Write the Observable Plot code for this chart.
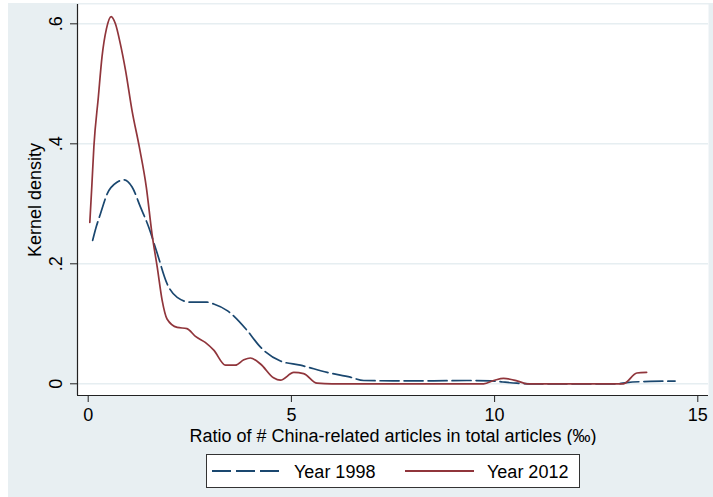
<!DOCTYPE html>
<html>
<head>
<meta charset="utf-8">
<script src="https://cdn.jsdelivr.net/npm/d3@7"></script>
<script src="https://cdn.jsdelivr.net/npm/@observablehq/plot@0.6"></script>
<style>
  html, body { margin: 0; padding: 0; background: #ffffff; }
  #wrap {
    position: relative; width: 713px; height: 497px; overflow: hidden;
    background: #e8eff2;
    box-shadow: inset 8px 3px 0 #ffffff;
    font-family: "Liberation Sans", Arial, sans-serif;
  }
  #chart { position: absolute; left: 0; top: 0; }
  #legend {
    position: absolute; left: 206px; top: 454px; width: 372px; height: 32px;
    background: #ffffff; border: 1px solid #333333;
    font-size: 18px; color: #000;
  }
  #legend .item { position: absolute; top: 0; height: 32px; display: flex; align-items: center; }
  #legend svg { display: block; }
</style>
</head>
<body>
<div id="wrap">
  <div id="chart"></div>
  <div id="legend"></div>
</div>
<script>
// ---- Data ----
const x1998 = [0.11, 0.20, 0.30, 0.47, 0.71, 0.89, 1.08, 1.29, 1.49, 1.70, 1.94, 2.19, 2.52, 2.93, 3.09, 3.42, 3.91, 4.24, 4.73, 5.22, 5.88, 6.45, 6.78, 7.50, 8.50, 9.32, 9.90, 10.20, 10.55, 11.00, 12.00, 13.00, 13.25, 13.83, 14.44];
const d1998 = [0.239, 0.262, 0.283, 0.317, 0.336, 0.340, 0.328, 0.294, 0.261, 0.217, 0.167, 0.144, 0.136, 0.136, 0.133, 0.122, 0.089, 0.061, 0.038, 0.031, 0.019, 0.011, 0.0055, 0.005, 0.005, 0.0055, 0.005, 0.003, 0.001, 0.0, 0.0, 0.0, 0.002, 0.004, 0.0045];

const x2012 = [0.04, 0.09, 0.14, 0.25, 0.34, 0.45, 0.565, 0.67, 0.79, 0.92, 1.08, 1.26, 1.43, 1.57, 1.70, 1.82, 1.94, 2.19, 2.43, 2.64, 2.88, 3.09, 3.38, 3.62, 3.83, 3.99, 4.24, 4.56, 4.73, 5.06, 5.30, 5.63, 6.00, 7.00, 8.00, 9.00, 9.73, 10.00, 10.22, 10.55, 10.80, 11.50, 12.50, 13.17, 13.50, 13.74];
const d2012 = [0.269, 0.330, 0.395, 0.478, 0.545, 0.592, 0.612, 0.600, 0.567, 0.522, 0.455, 0.394, 0.328, 0.250, 0.194, 0.139, 0.108, 0.094, 0.092, 0.079, 0.069, 0.056, 0.031, 0.031, 0.040, 0.043, 0.033, 0.010, 0.006, 0.019, 0.017, 0.001, 0.0, 0.0, 0.0, 0.0, 0.0, 0.006, 0.009, 0.005, 0.0, 0.0, 0.0, 0.0, 0.018, 0.019];

const seriesNames = ["Year 1998", "Year 2012"];
const seriesColors = ["#1a476f", "#90353b"];

const xTicks = [0, 5, 10, 15];
const xTickLabels = ["0", "5", "10", "15"];
const yTicks = [0, 0.2, 0.4, 0.6];
const yTickLabels = ["0", ".2", ".4", ".6"];

const xTitle = "Ratio of # China-related articles in total articles (\u2030)";
const yTitle = "Kernel density";

const xDomain = [-0.263, 15.263];
const yDomain = [-0.0195, 0.6322];

// ---- Build tables ----
const rows1998 = x1998.map((x, i) => ({x, d: d1998[i]}));
const rows2012 = x2012.map((x, i) => ({x, d: d2012[i]}));

const axisColor = "#222222";
const gridColor = "#e6eef1";
const dash = "19,5";

const chart = Plot.plot({
  width: 713,
  height: 445,
  marginLeft: 77,
  marginRight: 5,
  marginTop: 4,
  marginBottom: 50,
  style: {background: "transparent", fontFamily: "'Liberation Sans', Arial, sans-serif", fontSize: "18px", color: "#000"},
  x: {domain: xDomain},
  y: {domain: yDomain},
  marks: [
    Plot.frame({fill: "white", stroke: "none"}),
    Plot.gridY(yTicks, {stroke: gridColor, strokeOpacity: 1, strokeWidth: 1.6}),
    Plot.line(rows1998, {x: "x", y: "d", stroke: seriesColors[0], strokeWidth: 1.7, strokeDasharray: dash, curve: "monotone-x"}),
    Plot.line(rows2012, {x: "x", y: "d", stroke: seriesColors[1], strokeWidth: 1.7, curve: "monotone-x"}),
    Plot.ruleX([xDomain[0]], {stroke: axisColor, strokeWidth: 1.2}),
    Plot.ruleY([yDomain[0]], {stroke: axisColor, strokeWidth: 1.2}),
    Plot.axisX({ticks: xTicks, tickFormat: (d) => xTickLabels[xTicks.indexOf(d)], tickSize: 7, tickPadding: 6, label: null, stroke: axisColor, fill: "#000", fontSize: 18}),
    Plot.axisY({ticks: yTicks, tickFormat: () => "", tickSize: 7, label: null, stroke: axisColor}),
    Plot.text(yTicks, {y: (d) => d, text: (d, i) => yTickLabels[i], frameAnchor: "left", rotate: -90, dx: -21, textAnchor: "middle", lineAnchor: "middle", fill: "#000", fontSize: 18}),
    Plot.text([yTitle], {text: (d) => d, frameAnchor: "left", rotate: -90, dx: -42, textAnchor: "middle", lineAnchor: "middle", fill: "#000", fontSize: 18}),
    Plot.text([xTitle], {text: (d) => d, frameAnchor: "bottom", dy: 41, textAnchor: "middle", lineAnchor: "middle", fill: "#000", fontSize: 18})
  ]
});
document.getElementById("chart").appendChild(chart);

// ---- Legend ----
const legend = document.getElementById("legend");
const itemPos = [[5, 85], [198, 82]];
seriesNames.forEach((name, i) => {
  const item = document.createElement("div");
  item.className = "item";
  item.style.left = itemPos[i][0] + "px";
  const ns = "http://www.w3.org/2000/svg";
  const sw = document.createElementNS(ns, "svg");
  sw.setAttribute("width", 70);
  sw.setAttribute("height", 12);
  const ln = document.createElementNS(ns, "line");
  ln.setAttribute("x1", 0); ln.setAttribute("x2", 69);
  ln.setAttribute("y1", 6); ln.setAttribute("y2", 6);
  ln.setAttribute("stroke", seriesColors[i]);
  ln.setAttribute("stroke-width", 1.8);
  if (i === 0) ln.setAttribute("stroke-dasharray", dash);
  sw.appendChild(ln);
  item.appendChild(sw);
  const t = document.createElement("span");
  t.textContent = name;
  t.style.marginLeft = "12px";
  t.style.marginTop = "2px";
  item.appendChild(t);
  legend.appendChild(item);
});
</script>
</body>
</html>
